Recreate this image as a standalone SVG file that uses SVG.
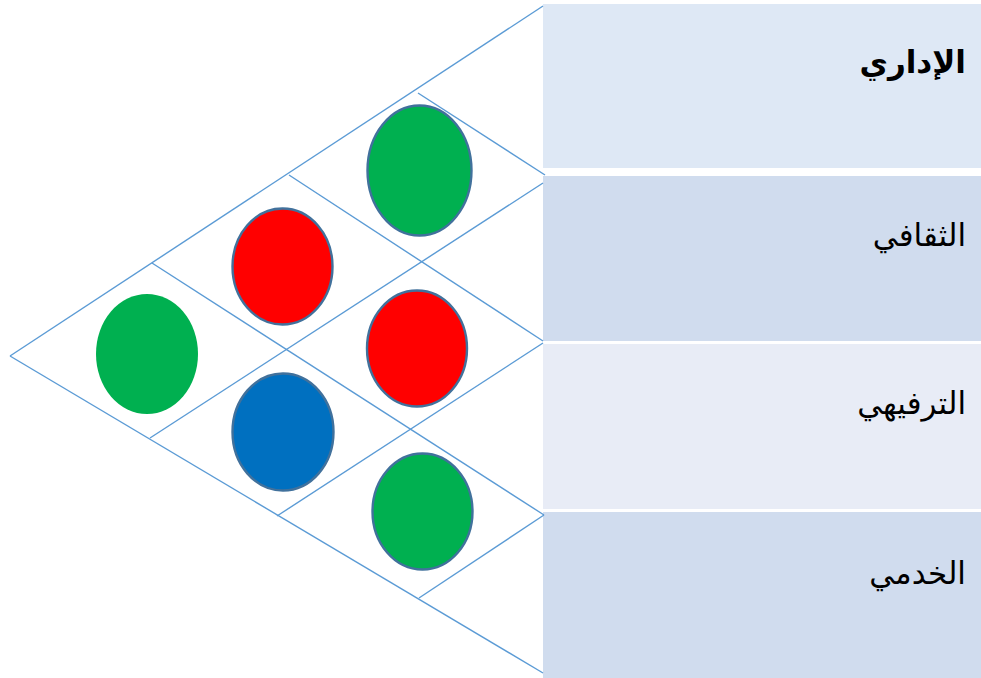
<svg xmlns="http://www.w3.org/2000/svg" width="981" height="678" viewBox="0 0 981 678">
<style>
.band{stroke:none}
.ln{stroke:#5B9BD5;stroke-width:1.4;fill:none}
.el{stroke:#41719C;stroke-width:2.4}
.lbl{font-family:"Liberation Sans","DejaVu Sans",sans-serif;font-size:31px;fill:#000;text-anchor:end}
</style>
<rect width="981" height="678" fill="#ffffff"/>
<g id="band-admin"><rect class="band" x="543" y="4" width="438" height="164" fill="#DEE8F5"/><text class="lbl" x="966" y="73" font-weight="bold">الإداري</text></g>
<g id="band-culture"><rect class="band" x="543" y="176" width="438" height="165" fill="#D0DCEE"/><text class="lbl" x="966" y="246">الثقافي</text></g>
<g id="band-recreation"><rect class="band" x="543" y="344" width="438" height="165" fill="#E8ECF6"/><text class="lbl" x="966" y="414">الترفيهي</text></g>
<g id="band-service"><rect class="band" x="543" y="512" width="438" height="166" fill="#D0DCEE"/><text class="lbl" x="966" y="584">الخدمي</text></g>
<g id="connectors">
<line class="ln" x1="10" y1="356" x2="543" y2="6"/>
<line class="ln" x1="10" y1="356" x2="543" y2="673"/>
<line class="ln" x1="150" y1="438" x2="543" y2="183"/>
<line class="ln" x1="277" y1="516" x2="543" y2="343"/>
<line class="ln" x1="419" y1="598" x2="544" y2="515"/>
<line class="ln" x1="152" y1="263" x2="544" y2="515"/>
<line class="ln" x1="289" y1="175" x2="543" y2="341"/>
<line class="ln" x1="418" y1="93" x2="545" y2="175"/>
</g>
<g id="dot-left"><ellipse cx="147" cy="354" rx="51" ry="60" fill="#00B050"/></g>
<g id="dot-red1"><ellipse class="el" cx="282.5" cy="266.5" rx="50" ry="58" fill="#FF0000"/></g>
<g id="dot-green-top"><ellipse class="el" cx="419.5" cy="170.5" rx="52" ry="65" fill="#00B050"/></g>
<g id="dot-red2"><ellipse class="el" cx="417" cy="348.5" rx="50" ry="58" fill="#FF0000"/></g>
<g id="dot-blue"><ellipse class="el" cx="283" cy="432" rx="50.5" ry="58.5" fill="#0070C0"/></g>
<g id="dot-green-bottom"><ellipse class="el" cx="422.5" cy="511.5" rx="50" ry="58" fill="#00B050"/></g>
</svg>
